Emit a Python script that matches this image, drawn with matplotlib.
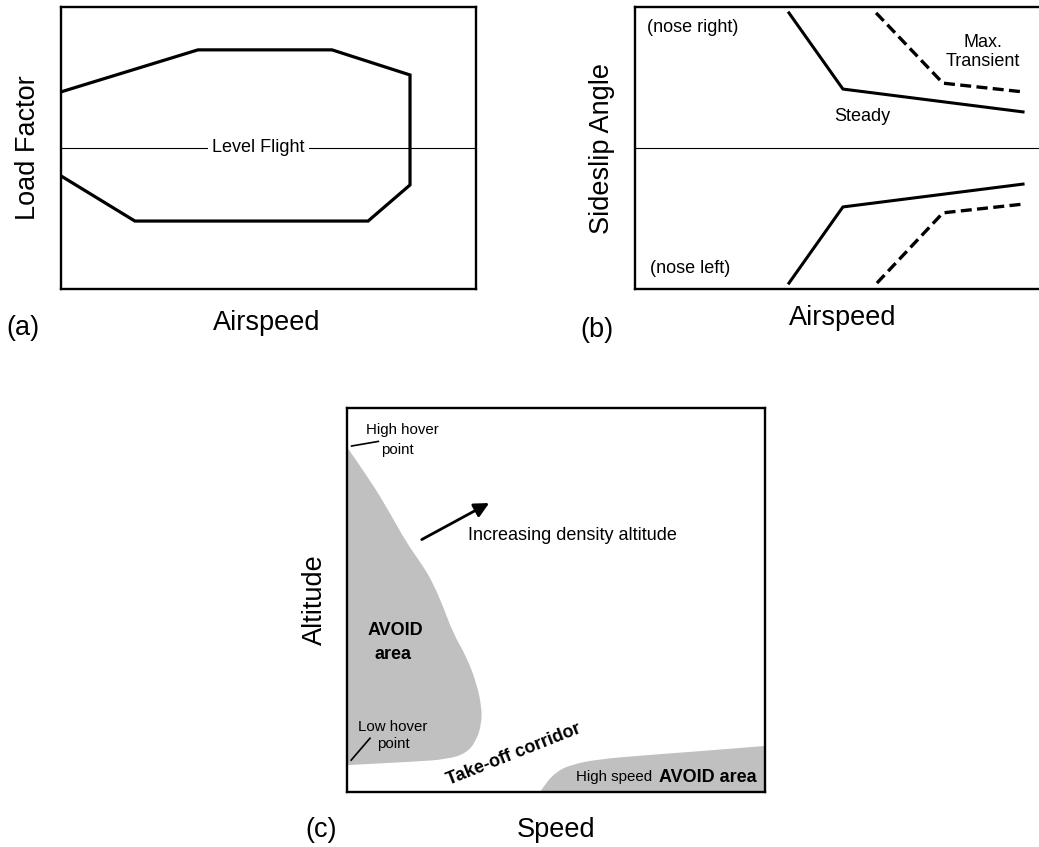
import matplotlib
matplotlib.use("Agg")
import matplotlib.pyplot as plt
from matplotlib.path import Path
from matplotlib.patches import PathPatch

plt.rcParams['font.family'] = ['Liberation Sans', 'DejaVu Sans']

# (a) load factor envelope vs airspeed (arbitrary 0-100 units)
env_speed = [0, 33.0, 65.3, 84.1, 84.1, 74.0, 17.8, 0]
env_load = [69.9, 84.8, 84.8, 75.9, 36.9, 24.1, 24.1, 40.1]
level_load = 50

# (b) sideslip angle vs airspeed
steady_speed = [37.1, 50.1, 93.5]
steady_right = [47.9, 20.9, 12.8]
steady_left = [-47.9, -20.9, -12.8]
trans_speed_r = [58.1, 74.2, 93.5]
trans_right = [47.9, 23.0, 19.9]
trans_speed_l = [58.3, 74.2, 93.5]
trans_left = [-47.9, -23.0, -19.9]

# (c) height-velocity diagram
avoid_speed = [0, 5.5, 10.3, 14.3, 18.3, 20.6, 23.0, 25.4, 28.6, 31.0,
               32.2, 32.2, 31.0, 28.6, 23.9, 15.9, 0]
avoid_alt = [89.8, 81.3, 72.6, 64.8, 58.7, 54.3, 48.3, 41.3, 35.2, 28.3,
             22.2, 17.9, 13.5, 10.1, 8.5, 7.9, 7.0]
hs_speed = [46.2, 47.8, 50.2, 53.3, 59.7, 71.7, 87.6, 100]
hs_alt = [0, 2.7, 5.3, 7.0, 8.5, 9.6, 10.9, 12.0]

W, H = 1039, 847
fig = plt.figure(figsize=(W / 100, H / 100), dpi=100)


def box(l, t, r, b):
    return [l / W, 1 - b / H, (r - l) / W, (b - t) / H]


def ftext(x, y, s, **kw):
    fig.text(x / W, 1 - y / H, s, ha='center', va='center', **kw)


def frame(ax):
    ax.set_xticks([])
    ax.set_yticks([])
    for sp in ax.spines.values():
        sp.set_linewidth(1.7)


def rounded_region(xs, ys, closing):
    # outline through the read points, corners rounded with quadratic curves
    pts = list(zip(xs, ys))
    verts = [pts[0]]
    codes = [Path.MOVETO]
    for i in range(1, len(pts) - 1):
        mid = ((pts[i][0] + pts[i + 1][0]) / 2, (pts[i][1] + pts[i + 1][1]) / 2)
        verts += [pts[i], mid]
        codes += [Path.CURVE3, Path.CURVE3]
    verts.append(pts[-1])
    codes.append(Path.LINETO)
    for p in closing:
        verts.append(p)
        codes.append(Path.LINETO)
    verts.append(pts[0])
    codes.append(Path.CLOSEPOLY)
    return Path(verts, codes)


BIG = 19.5
MID = 13
SMALL = 10.8
GREY = '#c0c0c0'

# ---- panel (a)
ax1 = fig.add_axes(box(61, 7, 476, 289))
ax1.set_xlim(0, 100)
ax1.set_ylim(0, 100)
frame(ax1)
ax1.axhline(level_load, color='black', lw=0.8)
ax1.plot(env_speed, env_load, color='black', lw=2.3, solid_joinstyle='miter')
ax1.text(47.5, level_load, 'Level Flight', ha='center', va='center', fontsize=MID,
         bbox=dict(facecolor='white', edgecolor='none', pad=3))
ftext(28, 148, 'Load Factor', fontsize=BIG, rotation=90)
ftext(267, 323, 'Airspeed', fontsize=BIG)
ftext(23, 328, '(a)', fontsize=BIG)

# ---- panel (b)
ax2 = fig.add_axes(box(635, 7, 1050, 289))
ax2.set_xlim(0, 100)
ax2.set_ylim(-50, 50)
frame(ax2)
ax2.axhline(0, color='black', lw=0.8)
ax2.plot(steady_speed, steady_right, color='black', lw=2.2)
ax2.plot(steady_speed, steady_left, color='black', lw=2.2)
ax2.plot(trans_speed_r, trans_right, color='black', lw=2.4, ls=(0, (3.3, 1.6)))
ax2.plot(trans_speed_l, trans_left, color='black', lw=2.4, ls=(0, (3.3, 1.6)))
ax2.text(14.0, 42.6, '(nose right)', ha='center', va='center', fontsize=MID)
ax2.text(13.3, -42.6, '(nose left)', ha='center', va='center', fontsize=MID)
ax2.text(54.7, 11.3, 'Steady', ha='center', va='center', fontsize=MID)
ax2.text(83.9, 34.0, 'Max.\nTransient', ha='center', va='center', fontsize=MID,
         linespacing=1.1)
ftext(602, 148, 'Sideslip Angle', fontsize=BIG, rotation=90)
ftext(843, 318, 'Airspeed', fontsize=BIG)
ftext(597, 330, '(b)', fontsize=BIG)

# ---- panel (c)
ax3 = fig.add_axes(box(347, 408, 765, 792))
ax3.set_xlim(0, 100)
ax3.set_ylim(0, 100)
frame(ax3)
ax3.add_patch(PathPatch(rounded_region(avoid_speed, avoid_alt, []),
                        facecolor=GREY, lw=0))
ax3.add_patch(PathPatch(rounded_region(hs_speed, hs_alt, [(100, 0)]),
                        facecolor=GREY, lw=0))
ax3.annotate('', xy=(34.6, 75.6), xytext=(17.3, 65.4),
             arrowprops=dict(arrowstyle='-|>', color='black', lw=2,
                             mutation_scale=22))
ax3.text(29.0, 66.9, 'Increasing density altitude', ha='left', va='center',
         fontsize=MID)
ax3.plot([1.1, 7.5], [90.1, 91.3], color='black', lw=1.2)
ax3.text(13.2, 94.3, 'High hover', ha='center', va='center', fontsize=SMALL)
ax3.text(12.0, 89.1, 'point', ha='center', va='center', fontsize=SMALL)
ax3.plot([1.0, 5.5], [8.3, 14.0], color='black', lw=1.2)
ax3.text(11.0, 17.0, 'Low hover', ha='center', va='center', fontsize=SMALL)
ax3.text(11.0, 12.5, 'point', ha='center', va='center', fontsize=SMALL)
ax3.text(11.6, 42.0, 'AVOID', ha='center', va='center', fontsize=MID,
         fontweight='bold')
ax3.text(10.9, 35.9, 'area', ha='center', va='center', fontsize=MID,
         fontweight='bold')
ax3.text(40.0, 9.7, 'Take-off corridor', ha='center', va='center', fontsize=MID,
         fontweight='bold', rotation=21.6)
ax3.text(72.9, 3.8, 'High speed', ha='right', va='center', fontsize=SMALL)
ax3.text(98.0, 3.8, 'AVOID area', ha='right', va='center', fontsize=MID,
         fontweight='bold')
ftext(315, 600, 'Altitude', fontsize=BIG, rotation=90)
ftext(556, 830, 'Speed', fontsize=BIG)
ftext(321, 830, '(c)', fontsize=BIG)

fig.savefig('out.png', dpi=100)
